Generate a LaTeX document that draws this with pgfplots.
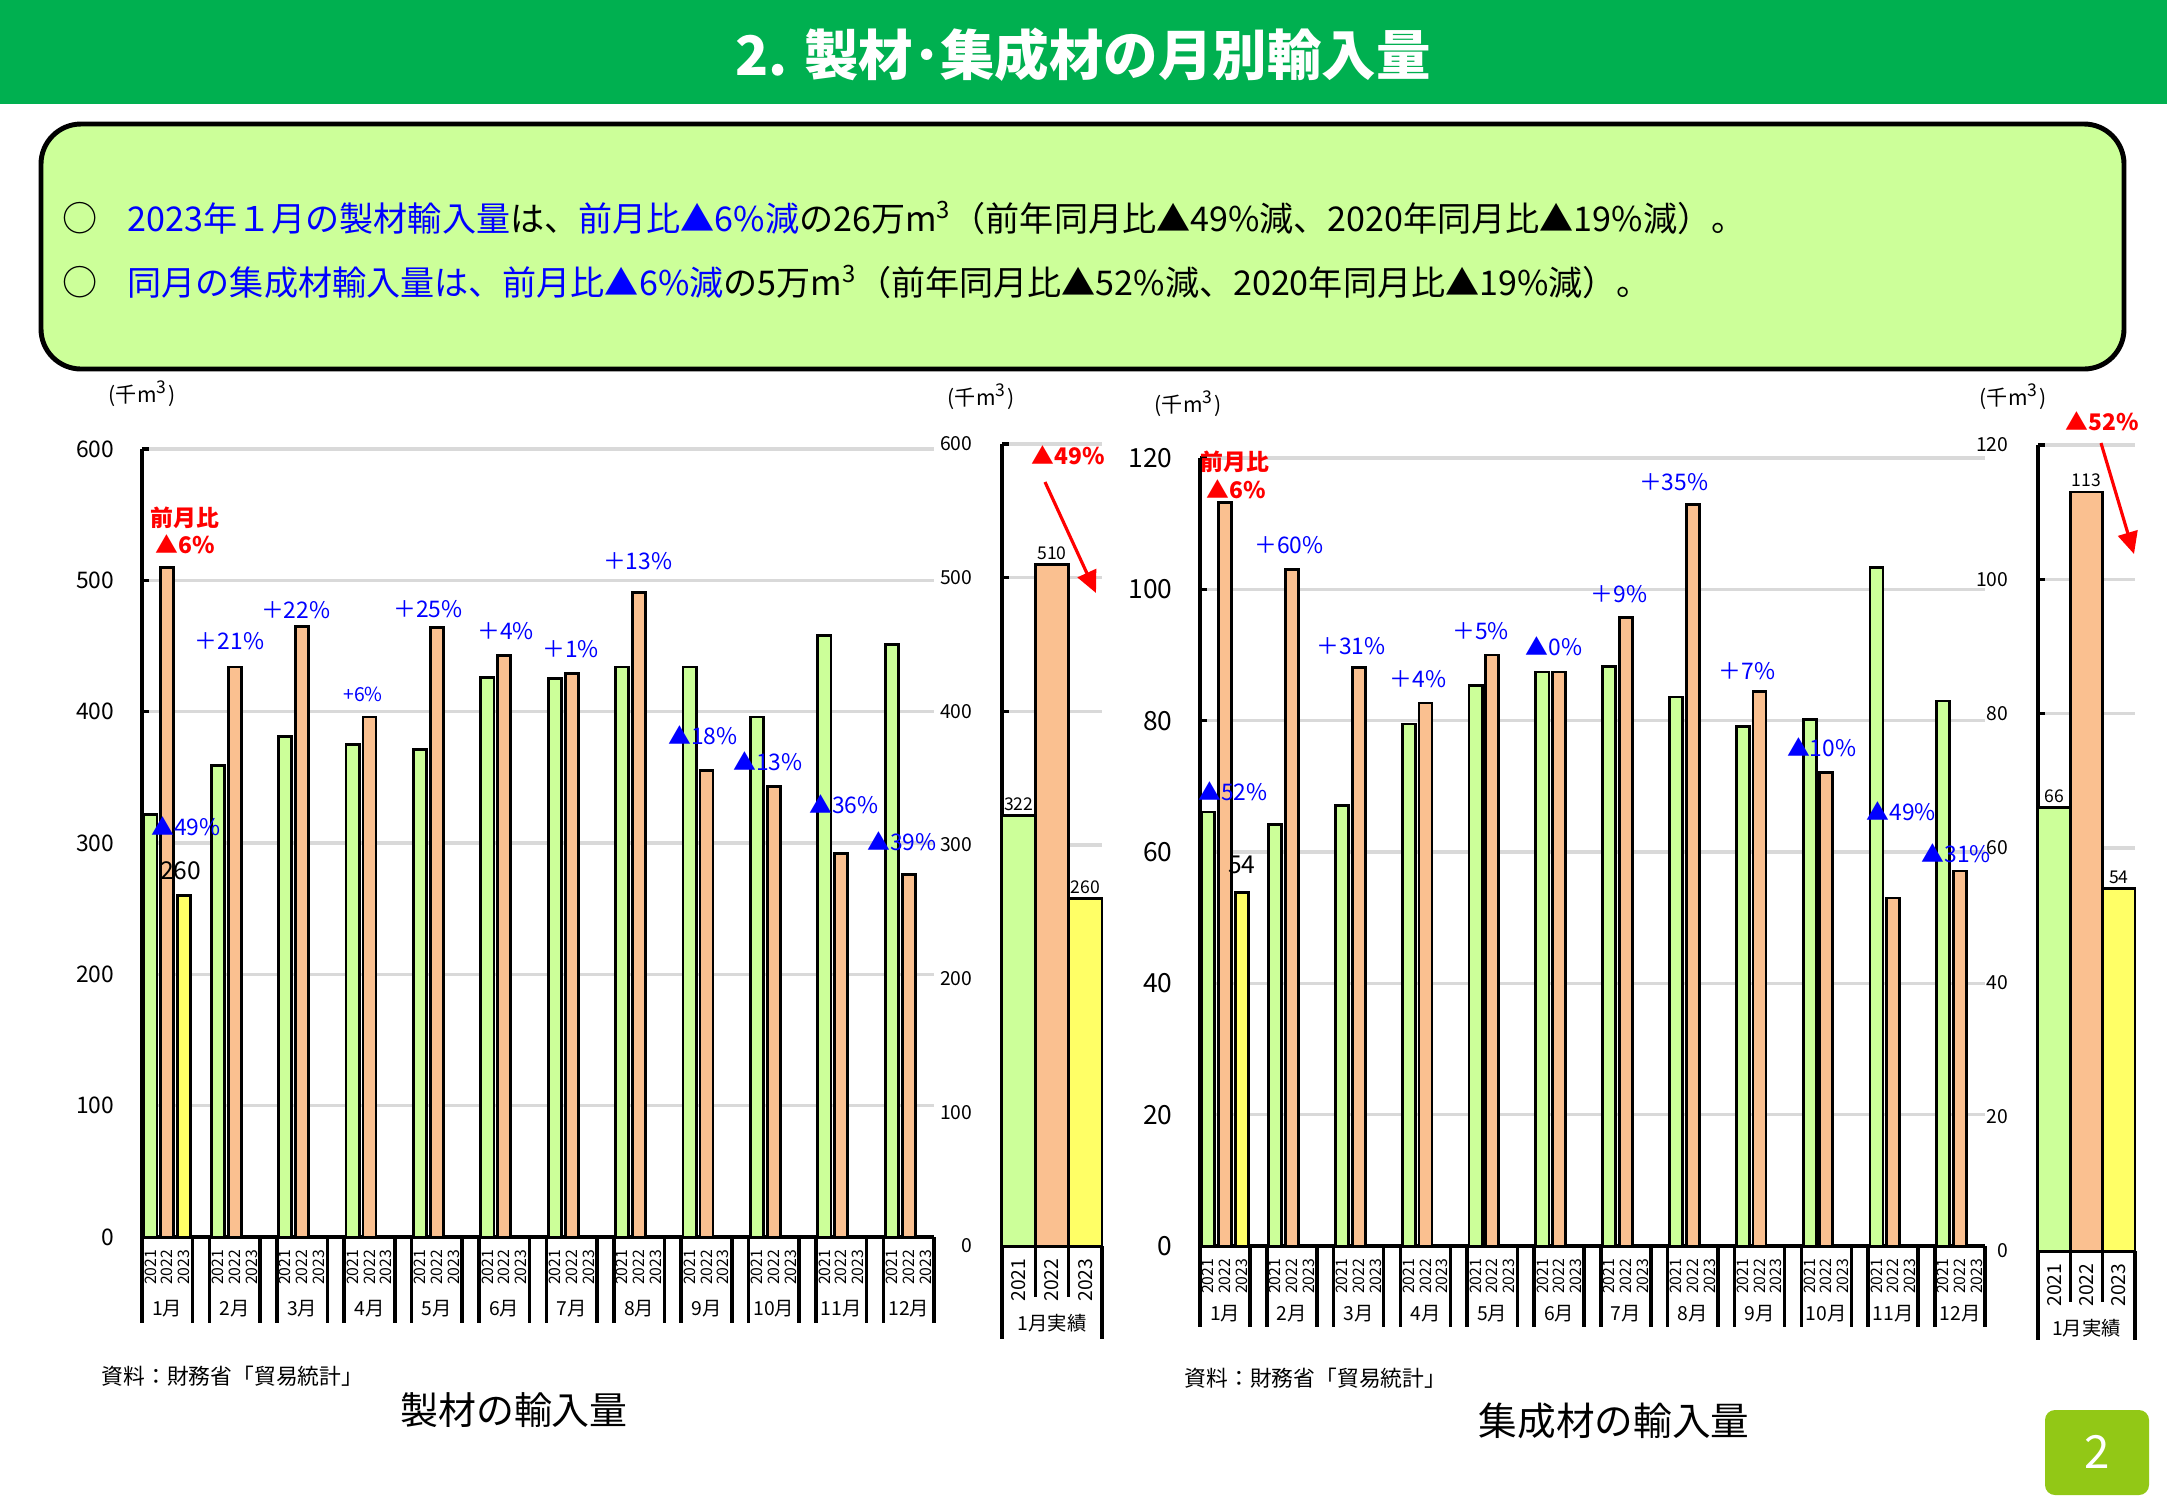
\documentclass[border=0pt]{standalone}
\usepackage{fontspec}
\setmainfont{Noto Sans CJK JP}
\usepackage{pgfplots}
\pgfplotsset{compat=1.18}
\usetikzlibrary{arrows.meta}

\definecolor{hdrgreen}{HTML}{00B050}
\definecolor{boxgreen}{HTML}{CCFF99}
\definecolor{c21}{HTML}{CCFF99}
\definecolor{c22}{HTML}{FAC090}
\definecolor{c23}{HTML}{FFFF66}
\definecolor{pagegreen}{HTML}{92C816}
\definecolor{gridgray}{HTML}{D9D9D9}
\definecolor{txtblue}{HTML}{0000FF}
\definecolor{txtred}{HTML}{FF0000}

\newcommand{\fs}[1]{\fontsize{#1}{#1}\selectfont}

\tikzset{
  pct/.style={font=\fs{6.5}, text=txtblue, inner sep=0pt},
  redl/.style={font=\bfseries\fs{6.5}, text=txtred, inner sep=0pt},
}

\pgfplotsset{
  basebar/.style={ybar, bar shift=0pt, draw=black, line width=0.8pt},
  common/.style={
    scale only axis, anchor=south west, clip=false,
    axis x line*=bottom, axis y line*=left,
    x axis line style={line width=1.4pt, -},
    y axis line style={line width=1pt, -},
    ymin=0,
    ymajorgrids, grid style={gridgray, line width=1pt},
    xtick style={draw=none},
    ytick style={black, line width=1pt},
    major tick length=0.7mm, tick align=inside,
    /pgf/number format/assume math mode=true,
    xticklabel style={rotate=90, anchor=east, inner xsep=1.2mm, inner ysep=0pt},
    yticklabel style={inner xsep=0pt, xshift=-2.7mm},
  },
  monthax/.style={common,
    xmin=0.5, xmax=47.5,
    xtick={1,2,3,5,6,7,9,10,11,13,14,15,17,18,19,21,22,23,25,26,27,29,30,31,33,34,35,37,38,39,41,42,43,45,46,47},
    xticklabels={2021,2022,2023,2021,2022,2023,2021,2022,2023,2021,2022,2023,2021,2022,2023,2021,2022,2023,2021,2022,2023,2021,2022,2023,2021,2022,2023,2021,2022,2023,2021,2022,2023,2021,2022,2023},
    xticklabel style={font=\fs{4.5}},
  },
  sideax/.style={common,
    xmin=0.5, xmax=3.5, xtick={1,2,3}, xticklabels={2021,2022,2023},
    y axis line style={line width=1.4pt},
    xticklabel style={font=\fs{5.5}},
    yticklabel style={font=\fs{5.5}, xshift=-0.2mm},
    nodes near coords,
    every node near coord/.append style={font=\fs{5}, black, inner sep=1pt},
  },
}

\begin{document}
\begin{tikzpicture}
\useasboundingbox (0,0) rectangle (21.67,-15);
\fill[white] (0,0) rectangle (21.67,-15);

% header
\fill[hdrgreen] (0,0) rectangle (21.67,-1.04);
\node[white, font=\bfseries\fs{15.5}] at (10.83,-0.55) {2. 製材･集成材の月別輸入量};

% summary box
\draw[line width=1.4pt, fill=boxgreen, rounded corners=4mm] (0.41,-1.24) rectangle (21.24,-3.69);
\node[font=\fs{10}] at (0.80,-2.18) {○};
\node[font=\fs{10}] at (0.80,-2.82) {○};
\node[anchor=west, font=\fs{9.7}, inner sep=0pt] at (1.27,-2.18)
  {{\color{txtblue}2023年１月の製材輸入量}は、{\color{txtblue}前月比▲6\%減}の26万m\textsuperscript{3}（前年同月比▲49\%減、2020年同月比▲19\%減）。};
\node[anchor=west, font=\fs{9.7}, inner sep=0pt] at (1.27,-2.82)
  {{\color{txtblue}同月の集成材輸入量は、前月比▲6\%減}の5万m\textsuperscript{3}（前年同月比▲52\%減、2020年同月比▲19\%減）。};

% ---------- 製材: monthly ----------
\begin{axis}[monthax, at={(1.42cm,-12.37cm)}, width=7.92cm, height=7.88cm,
  ymax=600, ytick={0,100,...,600}, yticklabel style={font=\fs{6.5}}]
\addplot[basebar, bar width=0.78, fill=c21] coordinates {
  (1,322) (5,359) (9,381) (13,375) (17,371) (21,426)
  (25,425) (29,434) (33,434) (37,396) (41,458) (45,451)};
\addplot[basebar, bar width=0.78, fill=c22] coordinates {
  (2,510) (6,434) (10,465) (14,396) (18,464) (22,443)
  (26,429) (30,491) (34,355) (38,343) (42,292) (46,276)};
\addplot[basebar, bar width=0.78, fill=c23] coordinates {(3,260)};
\pgfplotsinvokeforeach{1,...,12}{
  \node[font=\fs{5.5}] at (axis cs:{4*#1-2},0) [yshift=-7.2mm] {#1月};
  \draw[line width=1pt] (axis cs:{4*#1-3.5},0) -- ++(0pt,-8.6mm);
  \draw[line width=1pt] (axis cs:{4*#1-0.5},0) -- ++(0pt,-8.6mm);
}
\node[redl] at (axis cs:3.05,547.5) {前月比};
\node[redl] at (axis cs:3.05,527.7) {▲6\%};
\node[font=\fs{7}, inner sep=0pt] at (axis cs:2.79,279) {260};
\node[pct] at (axis cs:3.11,313) {▲49\%};
\node[pct] at (axis cs:5.69,454) {＋21\%};
\node[pct] at (axis cs:9.62,477.6) {＋22\%};
\node[pct, font=\fs{5.5}] at (axis cs:13.62,413.4) {+6\%};
\node[pct] at (axis cs:17.47,478) {＋25\%};
\node[pct] at (axis cs:22.07,461.5) {＋4\%};
\node[pct] at (axis cs:25.93,447.5) {＋1\%};
\node[pct] at (axis cs:29.92,514.9) {＋13\%};
\node[pct] at (axis cs:33.78,381.9) {▲18\%};
\node[pct] at (axis cs:37.65,362.4) {▲13\%};
\node[pct] at (axis cs:42.16,329.7) {▲36\%};
\node[pct] at (axis cs:45.60,301.2) {▲39\%};
\end{axis}

% ---------- 製材: January ----------
\begin{axis}[sideax, at={(10.02cm,-12.46cm)}, width=1.0cm, height=8.02cm,
  ymax=600, ytick={0,100,...,600}]
\addplot[basebar, bar width=1, fill=c21] coordinates {(1,322)};
\addplot[basebar, bar width=1, fill=c22] coordinates {(2,510)};
\addplot[basebar, bar width=1, fill=c23] coordinates {(3,260)};
\draw[line width=1.2pt] (axis cs:0.5,0) -- ++(0pt,-9.3mm);
\draw[line width=1.2pt] (axis cs:3.5,0) -- ++(0pt,-9.3mm);
\draw[line width=1pt] (axis cs:1.5,0) -- ++(0pt,-5.1mm);
\draw[line width=1pt] (axis cs:2.5,0) -- ++(0pt,-5.1mm);
\node[font=\fs{5.5}] at (axis cs:2,0) [yshift=-7.7mm] {1月実績};
\end{axis}

% ---------- 集成材: monthly ----------
\begin{axis}[monthax, at={(12.00cm,-12.46cm)}, width=7.85cm, height=7.88cm,
  ymax=120, ytick={0,20,...,120}, yticklabel style={font=\fs{7.5}}]
\addplot[basebar, bar width=0.78, fill=c21] coordinates {
  (1,66.1) (5,64.2) (9,67.1) (13,79.5) (17,85.4) (21,87.4)
  (25,88.2) (29,83.6) (33,79.1) (37,80.2) (41,103.3) (45,83.0)};
\addplot[basebar, bar width=0.78, fill=c22] coordinates {
  (2,113.2) (6,103.0) (10,88.1) (14,82.7) (18,90.0) (22,87.4)
  (26,95.7) (30,112.9) (34,84.5) (38,72.1) (42,53.0) (46,57.1)};
\addplot[basebar, bar width=0.78, fill=c23] coordinates {(3,53.8)};
\pgfplotsinvokeforeach{1,...,12}{
  \node[font=\fs{5.5}] at (axis cs:{4*#1-2},0) [yshift=-6.8mm] {#1月};
  \draw[line width=1pt] (axis cs:{4*#1-3.5},0) -- ++(0pt,-8.1mm);
  \draw[line width=1pt] (axis cs:{4*#1-0.5},0) -- ++(0pt,-8.1mm);
}
\node[redl] at (axis cs:2.60,119.4) {前月比};
\node[redl] at (axis cs:2.68,115.2) {▲6\%};
\node[font=\fs{7}, inner sep=0pt] at (axis cs:3.01,58.1) {54};
\node[pct] at (axis cs:2.48,69.2) {▲52\%};
\node[pct] at (axis cs:5.83,106.8) {＋60\%};
\node[pct] at (axis cs:9.54,91.3) {＋31\%};
\node[pct] at (axis cs:13.54,86.4) {＋4\%};
\node[pct] at (axis cs:17.30,93.6) {＋5\%};
\node[pct] at (axis cs:21.70,91.3) {▲0\%};
\node[pct] at (axis cs:25.59,99.2) {＋9\%};
\node[pct] at (axis cs:28.86,116.4) {＋35\%};
\node[pct] at (axis cs:33.25,87.5) {＋7\%};
\node[pct] at (axis cs:37.72,76.0) {▲10\%};
\node[pct] at (axis cs:42.48,66.2) {▲49\%};
\node[pct] at (axis cs:45.77,59.8) {▲31\%};
\end{axis}

% ---------- 集成材: January ----------
\begin{axis}[sideax, at={(20.38cm,-12.51cm)}, width=0.97cm, height=8.06cm,
  ymax=120, ytick={0,20,...,120}]
\addplot[basebar, bar width=1, fill=c21] coordinates {(1,66)};
\addplot[basebar, bar width=1, fill=c22] coordinates {(2,113)};
\addplot[basebar, bar width=1, fill=c23] coordinates {(3,54)};
\draw[line width=1.2pt] (axis cs:0.5,0) -- ++(0pt,-8.9mm);
\draw[line width=1.2pt] (axis cs:3.5,0) -- ++(0pt,-8.9mm);
\draw[line width=1pt] (axis cs:1.5,0) -- ++(0pt,-5.1mm);
\draw[line width=1pt] (axis cs:2.5,0) -- ++(0pt,-5.1mm);
\node[font=\fs{5.5}] at (axis cs:2,0) [yshift=-7.7mm] {1月実績};
\end{axis}

% units, arrows, notes
\node[font=\fs{6}] at (1.42,-3.94) {(千m\textsuperscript{3})};
\node[font=\fs{6}] at (9.81,-3.97) {(千m\textsuperscript{3})};
\node[font=\fs{6}] at (11.88,-4.04) {(千m\textsuperscript{3})};
\node[font=\fs{6}] at (20.13,-3.97) {(千m\textsuperscript{3})};
\node[redl] at (10.68,-4.55) {▲49\%};
\node[redl] at (21.02,-4.21) {▲52\%};
\draw[txtred, line width=0.9pt, -{Triangle[length=2.2mm, width=2mm]}] (10.45,-4.82) -- (10.96,-5.93);
\draw[txtred, line width=0.9pt, -{Triangle[length=2.2mm, width=2mm]}] (21.01,-4.43) -- (21.34,-5.54);
\node[anchor=west, font=\fs{6.2}, inner sep=0pt] at (1.01,-13.76) {資料：財務省「貿易統計」};
\node[anchor=west, font=\fs{6.2}, inner sep=0pt] at (11.84,-13.78) {資料：財務省「貿易統計」};
\node[font=\fs{10.8}] at (5.14,-14.10) {製材の輸入量};
\node[font=\fs{11}] at (16.14,-14.21) {集成材の輸入量};

% page number
\fill[pagegreen, rounded corners=1mm] (20.45,-14.10) rectangle (21.49,-14.95);
\node[white, font=\fs{13}] at (20.97,-14.52) {2};
\end{tikzpicture}
\end{document}
